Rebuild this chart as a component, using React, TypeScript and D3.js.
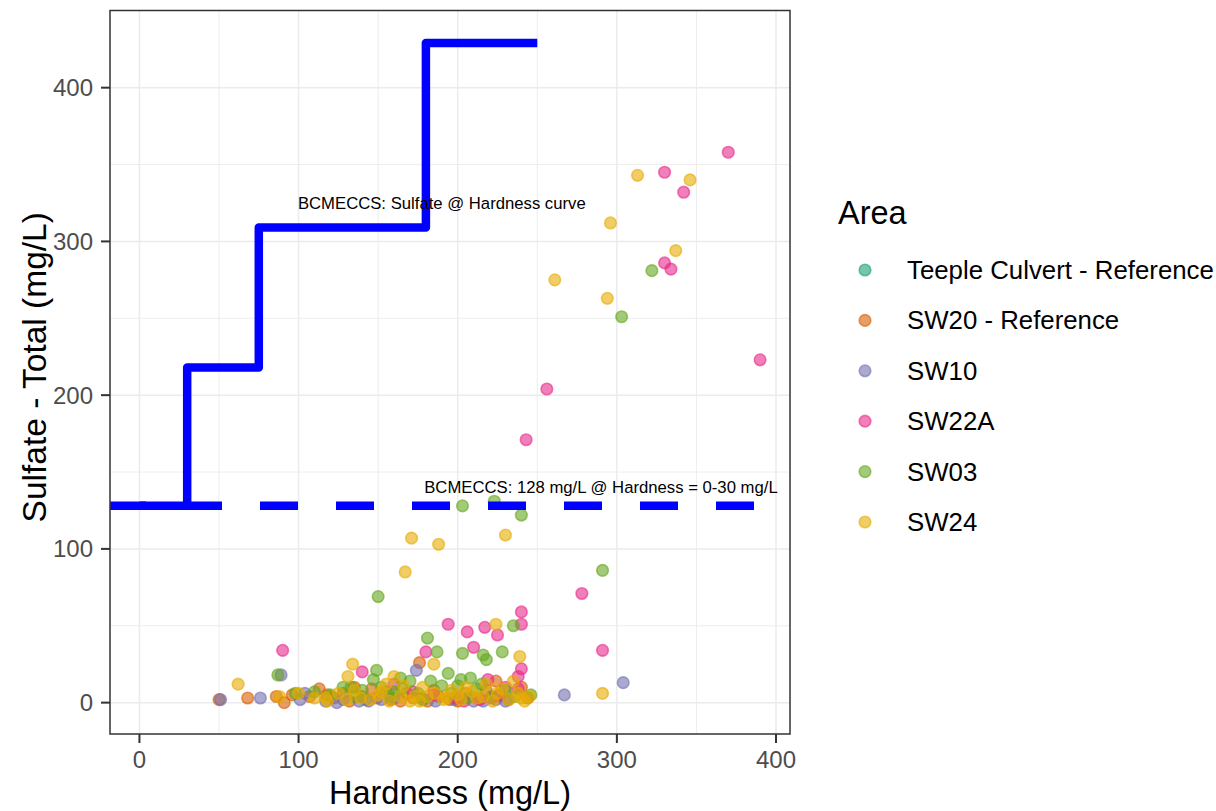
import React from "react";
import * as d3 from "d3";

// Hardness (mg/L) vs total sulfate (mg/L) samples, by monitoring area
const teepleCulvert: [number, number][] = [
  [142, 2], [178, 3],
];
const sw20: [number, number][] = [
  [50, 2], [68, 3], [86, 4], [91, 0], [96, 5], [107, 4], [113, 9], [122, 3], [128, 6], [135, 10],
  [140, 4], [149, 3], [155, 7], [164, 1], [168, 6], [176, 26], [181, 1], [188, 4], [195, 2], [205, 6],
  [212, 3], [218, 8], [224, 14], [232, 2], [240, 10], [244, 3], [118, 5], [132, 1], [146, 9],
  [158, 2], [172, 3], [185, 8], [200, 1], [226, 4],
];
const sw10: [number, number][] = [
  [51, 2], [76, 3], [89, 18], [101, 2], [104, 6], [117, 1], [128, 2], [138, 1], [152, 2], [160, 3],
  [174, 21], [186, 1], [198, 2], [210, 1], [224, 2], [230, 1], [267, 5], [304, 13], [124, 0],
  [144, 1], [178, 2], [216, 1],
];
const sw22a: [number, number][] = [
  [370, 358], [390, 223], [330, 345], [342, 332], [330, 286], [334, 282], [256, 204], [243, 171],
  [278, 71], [291, 34], [240, 59], [194, 51], [206, 46], [217, 49], [240, 51], [225, 44], [210, 36],
  [180, 33], [90, 34], [240, 22], [238, 17], [238, 9], [219, 15], [230, 10], [140, 20], [172, 7],
  [199, 3], [214, 2], [226, 5], [160, 12], [185, 5], [204, 1], [221, 3],
];
const sw03: [number, number][] = [
  [322, 281], [303, 251], [203, 128], [223, 131], [240, 122], [150, 69], [291, 86], [181, 42],
  [235, 50], [203, 32], [187, 33], [216, 31], [218, 28], [228, 33], [149, 21], [164, 16], [170, 14],
  [194, 19], [202, 15], [208, 16], [246, 5], [87, 18], [128, 10], [133, 10], [147, 15], [158, 4],
  [175, 6], [190, 11], [212, 9], [221, 4], [110, 7], [98, 6], [140, 8], [183, 14], [200, 11],
  [230, 8], [165, 9], [120, 5], [136, 4], [152, 10], [178, 2], [196, 6], [206, 3], [215, 12],
  [236, 4], [160, 7],
];
const sw24: [number, number][] = [
  [313, 343], [346, 340], [296, 312], [337, 294], [261, 275], [294, 263], [171, 107], [188, 103],
  [230, 109], [167, 85], [224, 51], [185, 25], [239, 30], [62, 12], [88, 4], [117, 3], [118, 1],
  [134, 25], [131, 17], [200, 5], [240, 3], [164, 4], [173, 4], [181, 4], [291, 6], [135, 8],
  [150, 5], [155, 12], [191, 2], [205, 10], [212, 3], [225, 6], [232, 2], [245, 4], [100, 6],
  [110, 3], [145, 2], [170, 1], [196, 8], [160, 17], [178, 10], [218, 12], [235, 14], [125, 6],
  [139, 3], [157, 1], [166, 11], [176, 1], [186, 6], [193, 3], [202, 2], [209, 7], [216, 4],
  [222, 1], [228, 9], [238, 6], [242, 1], [152, 7], [130, 2],
];

const areaNames = ["Teeple Culvert - Reference", "SW20 - Reference", "SW10", "SW22A", "SW03", "SW24"];
const areaSeries = [teepleCulvert, sw20, sw10, sw22a, sw03, sw24];
const areaColors = ["#1B9E77", "#D95F02", "#7570B3", "#E7298A", "#66A61E", "#E6AB02"];

// BC sulfate guideline steps by hardness band
const guideHardness = [0, 30, 30, 75, 75, 180, 180, 250];
const guideSulfate = [128, 128, 218, 218, 309, 309, 429, 429];
const flatGuideline = 128;

const hardnessTicks = [0, 100, 200, 300, 400];
const hardnessMinor = [50, 150, 250, 350];
const sulfateTicks = [0, 100, 200, 300, 400];
const sulfateMinor = [50, 150, 250, 350];

const curveLabel = { text: "BCMECCS: Sulfate @ Hardness curve", hardness: 190, sulfate: 325 };
const flatLabel = { text: "BCMECCS: 128 mg/L @ Hardness = 0-30 mg/L", hardness: 290, sulfate: 140 };

const W = 1216;
const H = 811;
const panel = { left: 110, right: 790, top: 10.5, bottom: 734 };

export default function App() {
  const x = d3.scaleLinear().domain([-18.5, 408.8]).range([panel.left, panel.right]);
  const y = d3.scaleLinear().domain([-20.4, 450.2]).range([panel.bottom, panel.top]);

  const guidePath = d3
    .line<number>()
    .x((_, i) => x(guideHardness[i]))
    .y((d) => y(d))(guideSulfate) as string;

  const font = "'Liberation Sans', Arial, Helvetica, sans-serif";
  const pointR = 5.8;
  const alpha = 0.6;

  return (
    <svg
      width={W}
      height={H}
      viewBox={`0 0 ${W} ${H}`}
      style={{ position: "absolute", left: 0, top: 0, background: "#fff" }}
      fontFamily={font}
    >
      <defs>
        <clipPath id="panel-clip">
          <rect x={panel.left} y={panel.top} width={panel.right - panel.left} height={panel.bottom - panel.top} />
        </clipPath>
      </defs>
      <rect x={panel.left} y={panel.top} width={panel.right - panel.left} height={panel.bottom - panel.top} fill="#fff" />

      {/* grid */}
      <g stroke="#EBEBEB">
        {hardnessMinor.map((v) => (
          <line key={"xm" + v} x1={x(v)} x2={x(v)} y1={panel.top} y2={panel.bottom} strokeWidth={0.9} />
        ))}
        {sulfateMinor.map((v) => (
          <line key={"ym" + v} y1={y(v)} y2={y(v)} x1={panel.left} x2={panel.right} strokeWidth={0.9} />
        ))}
        {hardnessTicks.map((v) => (
          <line key={"xM" + v} x1={x(v)} x2={x(v)} y1={panel.top} y2={panel.bottom} strokeWidth={1.5} />
        ))}
        {sulfateTicks.map((v) => (
          <line key={"yM" + v} y1={y(v)} y2={y(v)} x1={panel.left} x2={panel.right} strokeWidth={1.5} />
        ))}
      </g>

      <g clipPath="url(#panel-clip)">
        {/* samples */}
        {areaSeries.map((series, si) => (
          <g key={areaNames[si]} fill={areaColors[si]} stroke={areaColors[si]} fillOpacity={alpha} strokeOpacity={alpha}>
            {series.map(([h, s], i) => (
              <circle key={i} cx={x(h)} cy={y(s)} r={pointR} strokeWidth={1.6} />
            ))}
          </g>
        ))}

        {/* guideline curves */}
        <line
          x1={panel.left}
          x2={panel.right}
          y1={y(flatGuideline)}
          y2={y(flatGuideline)}
          stroke="#0000FF"
          strokeWidth={8.5}
          strokeDasharray="38 38"
          strokeDashoffset={2}
        />
        <path d={guidePath} fill="none" stroke="#0000FF" strokeWidth={8.5} strokeLinejoin="round" strokeLinecap="butt" />

        <text x={x(curveLabel.hardness)} y={y(curveLabel.sulfate)} dy="0.35em" textAnchor="middle" fontSize={16.7} fill="#000">
          {curveLabel.text}
        </text>
        <text x={x(flatLabel.hardness)} y={y(flatLabel.sulfate)} dy="0.35em" textAnchor="middle" fontSize={16.7} fill="#000">
          {flatLabel.text}
        </text>
      </g>

      {/* panel border */}
      <rect
        x={panel.left}
        y={panel.top}
        width={panel.right - panel.left}
        height={panel.bottom - panel.top}
        fill="none"
        stroke="#333333"
        strokeWidth={1.5}
      />

      {/* x axis */}
      <g>
        {hardnessTicks.map((v) => (
          <g key={"xt" + v}>
            <line x1={x(v)} x2={x(v)} y1={panel.bottom} y2={panel.bottom + 9} stroke="#333333" strokeWidth={2} />
            <text x={x(v)} y={768} textAnchor="middle" fontSize={24} fill="#4D4D4D">
              {v}
            </text>
          </g>
        ))}
        <text x={(panel.left + panel.right) / 2} y={804} textAnchor="middle" fontSize={32.5} fill="#000">
          Hardness (mg/L)
        </text>
      </g>

      {/* y axis */}
      <g>
        {sulfateTicks.map((v) => (
          <g key={"yt" + v}>
            <line x1={panel.left - 9} x2={panel.left} y1={y(v)} y2={y(v)} stroke="#333333" strokeWidth={2} />
            <text x={93} y={y(v)} dy="0.35em" textAnchor="end" fontSize={24} fill="#4D4D4D">
              {v}
            </text>
          </g>
        ))}
        <text
          transform={`translate(46,${(panel.top + panel.bottom) / 2 - 5}) rotate(-90)`}
          textAnchor="middle"
          fontSize={33.5}
          fill="#000"
        >
          Sulfate - Total (mg/L)
        </text>
      </g>

      {/* legend */}
      <g>
        <text x={838} y={224} fontSize={32.5} fill="#000">
          Area
        </text>
        {areaNames.map((name, i) => {
          const cy = 270 + i * 50.4;
          return (
            <g key={name}>
              <circle cx={865} cy={cy} r={pointR} fill={areaColors[i]} stroke={areaColors[i]} fillOpacity={alpha} strokeOpacity={alpha} strokeWidth={1.6} />
              <text x={907} y={cy} dy="0.35em" fontSize={25.8} fill="#000">
                {name}
              </text>
            </g>
          );
        })}
      </g>
    </svg>
  );
}
